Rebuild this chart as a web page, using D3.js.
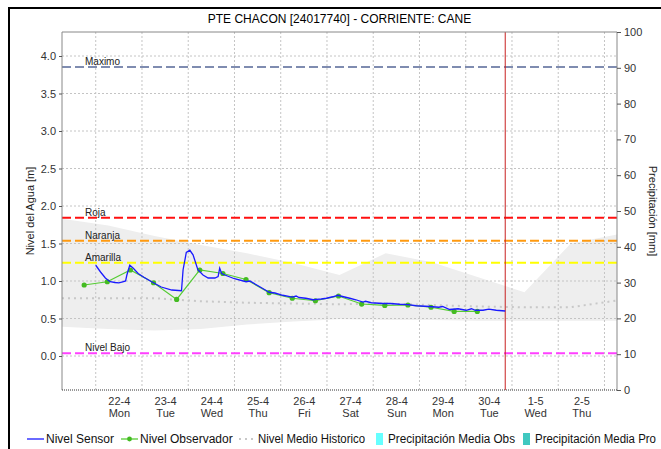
<!DOCTYPE html>
<html>
<head>
<meta charset="utf-8">
<script src="https://cdn.jsdelivr.net/npm/d3@7.9.0/dist/d3.min.js"></script>
<style>
  body { margin: 0; background: #fff; }
  svg { display: block; font-family: "Liberation Sans", Arial, sans-serif; }
</style>
</head>
<body>
<svg id="chart" width="661" height="449"></svg>
<script>
// ---- data ----
const title = "PTE CHACON [24017740] - CORRIENTE: CANE";

const sensorTimes = [
  "04-22 00:00","04-22 02:30","04-22 05:00","04-22 07:30","04-22 10:00","04-22 12:00",
  "04-22 14:00","04-22 15:30","04-22 16:10","04-22 17:40","04-22 19:30","04-22 22:00",
  "04-23 01:00","04-23 05:00","04-23 10:00","04-23 15:30","04-23 20:30","04-23 21:20",
  "04-23 23:00","04-24 00:50","04-24 02:30","04-24 05:00","04-24 07:40","04-24 10:20",
  "04-24 13:50","04-24 15:30","04-24 16:20","04-24 17:20","04-24 19:00","04-25 00:00",
  "04-25 06:00","04-25 08:00","04-25 12:00","04-25 16:40","04-25 18:00","04-25 21:00",
  "04-26 01:00","04-26 06:00","04-26 08:00","04-26 09:30","04-26 13:00","04-26 16:50",
  "04-26 18:30","04-26 21:00","04-26 23:45","04-27 03:00","04-27 05:40","04-27 07:00",
  "04-27 11:50","04-27 15:00","04-27 18:40","04-27 20:00","04-27 23:00","04-28 05:00",
  "04-28 09:00","04-28 13:40","04-28 18:00","04-28 22:20","04-29 05:15","04-29 10:00",
  "04-29 12:00","04-29 15:40","04-29 20:00","04-30 00:15","04-30 03:00","04-30 05:00",
  "04-30 09:00","04-30 12:00","04-30 15:50","04-30 20:30"
];
const sensorValues = [
  1.21,1.12,1.04,0.99,0.98,0.975,
  0.99,1.00,1.08,1.21,1.17,1.10,
  1.05,0.99,0.92,0.88,0.87,1.15,
  1.38,1.41,1.35,1.15,1.08,1.04,
  1.04,1.06,1.17,1.10,1.08,1.03,
  0.99,1.00,0.94,0.87,0.85,0.84,
  0.81,0.785,0.80,0.78,0.77,0.75,
  0.755,0.76,0.77,0.79,0.81,0.80,
  0.77,0.75,0.72,0.73,0.71,0.70,
  0.70,0.69,0.685,0.67,0.66,0.65,
  0.66,0.62,0.63,0.61,0.63,0.61,
  0.61,0.625,0.61,0.60
];

const observerTimes = [
  "04-21 18:00","04-22 06:00","04-22 18:00","04-23 06:00","04-23 18:00","04-24 06:00",
  "04-24 18:00","04-25 06:00","04-25 18:00","04-26 06:00","04-26 18:00","04-27 06:00",
  "04-27 18:00","04-28 06:00","04-28 18:00","04-29 06:00","04-29 18:00","04-30 06:00"
];
const observerValues = [
  0.947,0.99,1.147,0.977,0.755,1.147,
  1.10,1.02,0.845,0.77,0.737,0.80,
  0.693,0.675,0.68,0.65,0.595,0.595
];

const histTimes = [
  "04-21 06:30","04-22 06:30","04-23 06:30","04-24 06:30","04-25 06:30","04-26 06:30","04-27 06:30",
  "04-28 06:30","04-29 06:30","04-30 06:30","05-01 06:30","05-02 06:30","05-03 06:30"
];
const histUpper  = [1.83,1.74,1.60,1.48,1.37,1.24,1.08,1.37,1.25,1.05,0.85,1.50,1.62];
const histLower  = [0.39,0.36,0.34,0.36,0.42,0.46,0.49,0.48,0.48,0.47,0.47,0.47,0.47];
const histMedian = [0.77,0.77,0.77,0.73,0.71,0.70,0.69,0.70,0.68,0.66,0.65,0.65,0.74];

const precipObs = [0,0,0,0,0,0,0,0,0,0,0,0,0];
const precipPro = [0,0,0,0,0,0,0,0,0,0,0,0,0];

const thresholdNames  = ["Maximo","Roja","Naranja","Amarilla","Nivel Bajo"];
const thresholdValues = [3.853,1.844,1.537,1.244,0.036];
const thresholdColors = ["#7f8cb0","#ff1010","#ff9a10","#ffff00","#ff40ff"];

const levelTicks  = [0,0.5,1,1.5,2,2.5,3,3.5,4];
const precipTicks = [0,10,20,30,40,50,60,70,80,90,100];
const nowTime = "04-30 20:30";

// ---- setup ----
const parse = d3.timeParse("%Y-%m-%d %H:%M");
const t = s => parse("2024-" + s);

const pLeft = 62, pRight = 617, pTop = 32, pBottom = 390;
const svg = d3.select("#chart");

const x = d3.scaleTime()
  .domain([t("04-21 06:30"), t("05-03 06:30")])
  .range([pLeft, pRight]);
const y = d3.scaleLinear().domain([-0.4533, 4.32]).range([pBottom, pTop]);
const yR = d3.scaleLinear().domain([0, 100]).range([pBottom, pTop]);

// outer frame
svg.append("path").attr("d", "M9,449V8H661")
  .attr("fill", "none").attr("stroke", "#000").attr("stroke-width", 2);

// title
svg.append("text").attr("x", (pLeft + pRight) / 2).attr("y", 23)
  .attr("text-anchor", "middle").attr("font-size", 12).attr("fill", "#000")
  .text(title);

// historic band
const hist = histTimes.map((d, i) => ({ t: t(d), hi: histUpper[i], lo: histLower[i], md: histMedian[i] }));
svg.append("path").datum(hist)
  .attr("fill", "#eeeeee")
  .attr("d", d3.area().x(d => x(d.t)).y0(d => y(d.lo)).y1(d => y(d.hi)));

// precipitation bars (all zero)
const barW = 8;
svg.append("g").selectAll("rect").data(histTimes).join("rect")
  .attr("x", d => x(t(d)) - barW).attr("width", barW)
  .attr("y", (d, i) => yR(precipObs[i])).attr("height", (d, i) => yR(0) - yR(precipObs[i]))
  .attr("fill", "#66ffff");
svg.append("g").selectAll("rect").data(histTimes).join("rect")
  .attr("x", d => x(t(d))).attr("width", barW)
  .attr("y", (d, i) => yR(precipPro[i])).attr("height", (d, i) => yR(0) - yR(precipPro[i]))
  .attr("fill", "#40c8c0");

// grid
const days = d3.timeDay.range(t("04-22 00:00"), t("05-03 06:30"));
svg.append("g").selectAll("line").data(days).join("line")
  .attr("x1", d => x(d)).attr("x2", d => x(d)).attr("y1", pTop).attr("y2", pBottom)
  .attr("stroke", "#c4c4c4").attr("stroke-dasharray", "2,2");
svg.append("g").selectAll("line").data(levelTicks).join("line")
  .attr("x1", pLeft).attr("x2", pRight).attr("y1", d => y(d)).attr("y2", d => y(d))
  .attr("stroke", "#c4c4c4").attr("stroke-dasharray", "2,2");

// historic median
svg.append("path").datum(hist)
  .attr("fill", "none").attr("stroke", "#c8c8c8").attr("stroke-width", 2)
  .attr("stroke-dasharray", "2,4")
  .attr("d", d3.line().x(d => x(d.t)).y(d => y(d.md)));

// thresholds
thresholdValues.forEach((v, i) => {
  svg.append("line")
    .attr("x1", pLeft).attr("x2", pRight).attr("y1", y(v)).attr("y2", y(v))
    .attr("stroke", thresholdColors[i]).attr("stroke-width", 2).attr("stroke-dasharray", "9,4");
  svg.append("text").attr("x", 85).attr("y", y(v) - 2)
    .attr("font-size", 10).attr("fill", "#222").text(thresholdNames[i]);
});

// now line
svg.append("line").attr("x1", x(t(nowTime))).attr("x2", x(t(nowTime)))
  .attr("y1", pTop).attr("y2", pBottom).attr("stroke", "#c82020").attr("stroke-width", 1);

// observer
const obs = observerTimes.map((d, i) => ({ t: t(d), v: observerValues[i] }));
svg.append("path").datum(obs)
  .attr("fill", "none").attr("stroke", "#55cc33").attr("stroke-width", 1.2)
  .attr("d", d3.line().x(d => x(d.t)).y(d => y(d.v)));
svg.append("g").selectAll("circle").data(obs).join("circle")
  .attr("cx", d => x(d.t)).attr("cy", d => y(d.v)).attr("r", 2.6).attr("fill", "#44bb22");

// sensor
const sen = sensorTimes.map((d, i) => ({ t: t(d), v: sensorValues[i] }));
svg.append("path").datum(sen)
  .attr("fill", "none").attr("stroke", "#1a1aff").attr("stroke-width", 1.3)
  .attr("d", d3.line().x(d => x(d.t)).y(d => y(d.v)));

// frame of plot
svg.append("path").attr("d", `M${pLeft},${pBottom}V${pTop}H${pRight}V${pBottom}`)
  .attr("fill", "none").attr("stroke", "#888");
svg.append("line").attr("x1", pLeft).attr("x2", pRight).attr("y1", pBottom).attr("y2", pBottom)
  .attr("stroke", "#333").attr("stroke-dasharray", "1,1");

// axes
const gl = svg.append("g").attr("transform", `translate(${pLeft},0)`)
  .call(d3.axisLeft(y).tickValues(levelTicks).tickFormat(d3.format(".1f")).tickSize(3));
const gr = svg.append("g").attr("transform", `translate(${pRight},0)`)
  .call(d3.axisRight(yR).tickValues(precipTicks).tickSize(4));
[gl, gr].forEach(g => {
  g.select(".domain").remove();
  g.selectAll("text").attr("font-size", 11).attr("fill", "#333").attr("font-family", "Liberation Sans, Arial");
  g.selectAll("line").attr("stroke", "#555");
});

const noons = days.map(d => d3.timeHour.offset(d, 12)).filter(d => d < x.domain()[1]);
const gx = svg.append("g").attr("transform", `translate(0,${pBottom})`)
  .call(d3.axisBottom(x).tickValues(noons).tickSize(0).tickFormat(""));
gx.select(".domain").remove();
const fmtDay = d3.timeFormat("%-d-%-m"), fmtWd = d3.timeFormat("%a");
gx.selectAll(".tick").each(function(d) {
  const g = d3.select(this);
  g.append("text").attr("y", 15).attr("text-anchor", "middle").attr("font-size", 11)
    .attr("fill", "#333").text(fmtDay(d));
  g.append("text").attr("y", 27).attr("text-anchor", "middle").attr("font-size", 11)
    .attr("fill", "#333").text(fmtWd(d));
});

// axis titles
svg.append("text").attr("transform", `translate(34,${(pTop + pBottom) / 2}) rotate(-90)`)
  .attr("text-anchor", "middle").attr("font-size", 11).attr("fill", "#222")
  .text("Nivel del Agua [m]");
svg.append("text").attr("transform", `translate(649,${(pTop + pBottom) / 2}) rotate(90)`)
  .attr("text-anchor", "middle").attr("font-size", 11).attr("fill", "#222")
  .text("Precipitación [mm]");

// legend
const legendItems = [
  { label: "Nivel Sensor", kind: "line", color: "#1a1aff", x: 27, w: 68 },
  { label: "Nivel Observador", kind: "marker", color: "#55cc33", x: 121, w: 93 },
  { label: "Nivel Medio Historico", kind: "dots", color: "#c8c8c8", x: 239, w: 107 },
  { label: "Precipitación Media Obs", kind: "rect", color: "#66ffff", x: 376, w: 127 },
  { label: "Precipitación Media Pro", kind: "rect", color: "#40c8c0", x: 523, w: 121 }
];
const ly = 439;
const lg = svg.append("g");
legendItems.forEach(it => {
  let tx;
  if (it.kind === "rect") {
    lg.append("rect").attr("x", it.x).attr("y", ly - 6).attr("width", 7).attr("height", 12).attr("fill", it.color);
    tx = it.x + 12;
  } else {
    const ln = lg.append("line").attr("x1", it.x).attr("x2", it.x + 17).attr("y1", ly).attr("y2", ly)
      .attr("stroke", it.color).attr("stroke-width", it.kind === "dots" ? 2 : 1.3);
    if (it.kind === "dots") ln.attr("stroke-dasharray", "2,4");
    if (it.kind === "marker") lg.append("circle").attr("cx", it.x + 8.5).attr("cy", ly).attr("r", 2.4).attr("fill", "#44bb22");
    tx = it.x + 19;
  }
  const el = lg.append("text").attr("x", tx).attr("y", ly + 4).attr("font-size", 12).attr("fill", "#111").text(it.label);
  if (el.node().getComputedTextLength() > it.w)
    el.attr("textLength", it.w).attr("lengthAdjust", "spacingAndGlyphs");
});
</script>
</body>
</html>
